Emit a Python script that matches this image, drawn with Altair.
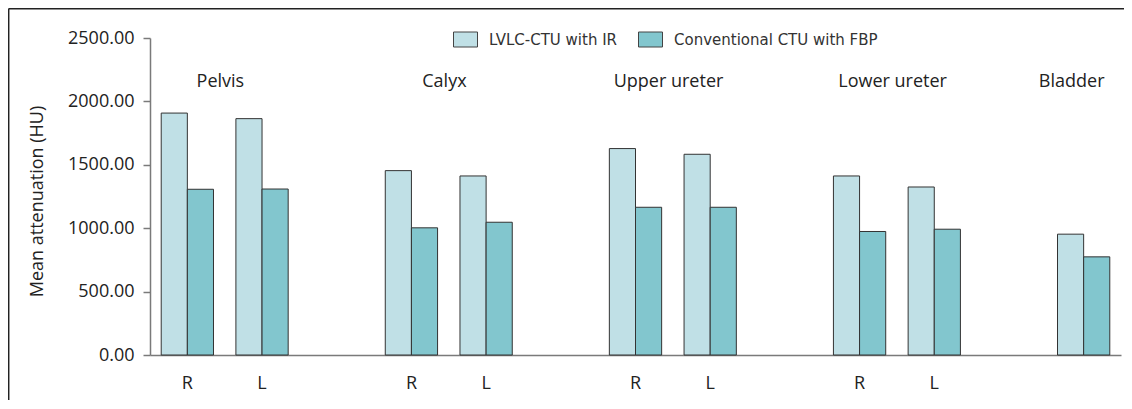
import altair as alt
import pandas as pd

# ---- data ----
regions = ["Pelvis", "Calyx", "Upper ureter", "Lower ureter", "Bladder"]
slots = ["PR", "PL", "g1", "CR", "CL", "g2", "UR", "UL", "g3", "LR", "LL", "g4", "B"]
slot_labels = ["R", "L", "", "R", "L", "", "R", "L", "", "R", "L", "", ""]
series = ["LVLC-CTU with IR", "Conventional CTU with FBP"]
bar_slots = ["PR", "PL", "CR", "CL", "UR", "UL", "LR", "LL", "B"]
lvlc_values = [1908, 1864, 1454, 1412, 1628, 1583, 1412, 1325, 953]
conv_values = [1307, 1309, 1003, 1047, 1165, 1165, 974, 992, 774]
region_label_slots = ["PR", "CR", "UR", "LR"]
pair_regions = ["Pelvis", "Calyx", "Upper ureter", "Lower ureter"]
single_region_slots = ["B"]
single_regions = ["Bladder"]
y_ticks = [0, 500, 1000, 1500, 2000, 2500]
colors = ["#C0E0E6", "#82C6CE"]

rows = []
for s, a, b in zip(bar_slots, lvlc_values, conv_values):
    rows.append({"slot": s, "series": series[0], "value": a})
    rows.append({"slot": s, "series": series[1], "value": b})
bars_df = pd.DataFrame(rows)
pair_df = pd.DataFrame({"slot": region_label_slots, "region": pair_regions})
single_df = pd.DataFrame({"slot": single_region_slots, "region": single_regions})

FONT = "Open Sans"
label_expr = "[" + ",".join(f"'{l}'" for l in slot_labels) + "][indexof([" + \
    ",".join(f"'{s}'" for s in slots) + "], datum.value)]"

x_scale = alt.Scale(domain=slots, paddingInner=0.3, paddingOuter=0.15)

bars = alt.Chart(bars_df).mark_bar(stroke="#333333", strokeWidth=1).encode(
    x=alt.X("slot:N", scale=x_scale, sort=slots,
            axis=alt.Axis(title=None, labelExpr=label_expr, ticks=False,
                          labelAngle=0, labelFont=FONT, labelFontSize=18,
                          labelColor="#222222", labelPadding=19,
                          domainColor="#7a7a7a", domainWidth=1.5)),
    xOffset=alt.XOffset("series:N", sort=series,
                        scale=alt.Scale(domain=series, paddingInner=0, paddingOuter=0)),
    y=alt.Y("value:Q", scale=alt.Scale(domain=[0, 2500], nice=False),
            axis=alt.Axis(values=y_ticks, format=".2f", title="Mean attenuation (HU)",
                          grid=False, tickSize=7, tickColor="#7a7a7a", tickWidth=1.5,
                          domainColor="#7a7a7a", domainWidth=1.5,
                          labelFont=FONT, labelFontSize=18, labelColor="#222222",
                          labelPadding=9, titleFont=FONT, titleFontSize=18,
                          titleFontWeight="normal", titleColor="#222222",
                          titleX=-113, titleY=163, titleAngle=-90,
                          titleAlign="center", titleBaseline="middle")),
    color=alt.Color("series:N", sort=series,
                    scale=alt.Scale(domain=series, range=colors),
                    legend=alt.Legend(title=None, orient="none", legendX=303, legendY=-11,
                                      direction="horizontal",
                                      symbolType="M-1,-0.625H1V0.625H-1Z",
                                      symbolSize=576, symbolStrokeColor="#444444",
                                      symbolStrokeWidth=1, symbolOpacity=1,
                                      labelFont="DejaVu Sans", labelFontSize=15,
                                      labelColor="#333333", labelOffset=11,
                                      labelLimit=400,
                                      columnPadding=18, padding=0)),
)

pair_text = alt.Chart(pair_df).mark_text(
    font=FONT, fontSize=18, color="#222222", dx=33, baseline="middle", align="center"
).encode(
    x=alt.X("slot:N", scale=x_scale, sort=slots),
    y=alt.value(44),
    text="region:N",
)

single_text = alt.Chart(single_df).mark_text(
    font=FONT, fontSize=18, color="#222222", dx=-12, baseline="middle", align="center"
).encode(
    x=alt.X("slot:N", scale=x_scale, sort=slots),
    y=alt.value(44),
    text="region:N",
)

top_border = alt.Chart(pd.DataFrame({"k": [0]})).mark_rule(
    color="#222222", strokeWidth=1.5
).encode(x=alt.value(-141.5), x2=alt.value(975), y=alt.value(-29.3))

left_border = alt.Chart(pd.DataFrame({"k": [0]})).mark_rule(
    color="#222222", strokeWidth=1.5
).encode(x=alt.value(-141.3), y=alt.value(-29.3), y2=alt.value(370))

chart = alt.layer(bars, pair_text, single_text, top_border, left_border).properties(
    width=971, height=317,
    autosize=alt.AutoSizeParams(type="none"),
    padding={"left": 142, "top": 30, "right": 3, "bottom": 45},
    background="white",
).configure_view(stroke=None)

chart.save("out.html", embed_options={"renderer": "svg", "actions": False})
